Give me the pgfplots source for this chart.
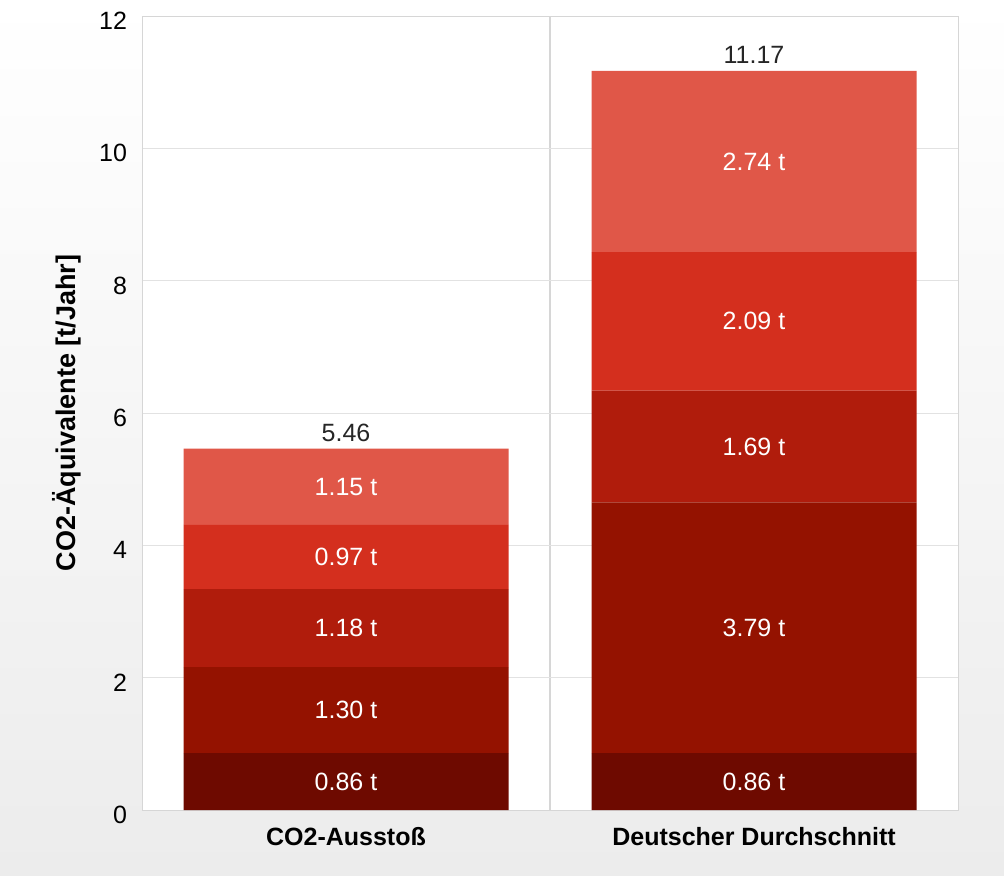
\documentclass[border=0pt]{standalone}
\usepackage{pgfplots}
\pgfplotsset{compat=1.18}
\usepackage{fontspec}
\setmainfont{Liberation Sans}

\definecolor{sA}{HTML}{6E0A00}
\definecolor{sB}{HTML}{941200}
\definecolor{sC}{HTML}{B01C0C}
\definecolor{sD}{HTML}{D42F1E}
\definecolor{sE}{HTML}{E05748}
\definecolor{gridcol}{HTML}{E2E2E2}
\definecolor{framecol}{HTML}{D6D6D6}
\definecolor{bgbot}{HTML}{ECECEC}

\newcommand{\lbl}{\fontsize{12.5}{15}\selectfont}
\tikzset{seg/.style={font=\lbl, text=white}, tot/.style={font=\lbl, anchor=south, text=black!85}}

\begin{document}
\begin{tikzpicture}
  % Hintergrund mit Verlauf
  \shade[top color=white, bottom color=bgbot] (-71pt,-32.5pt) rectangle (431pt,405pt);
  \path[use as bounding box] (-71pt,-32.5pt) rectangle (431pt,405pt);

  \begin{axis}[
      scale only axis,
      width=408pt, height=397pt,
      ybar stacked,
      bar width=162.5pt,
      xmin=-0.5, xmax=1.5,
      ymin=0, ymax=12,
      xtick={0,1},
      xticklabels={CO2-Ausstoß, Deutscher Durchschnitt},
      minor xtick={0.5},
      ytick={0,2,...,12},
      ymajorgrids, xminorgrids,
      major grid style={draw=gridcol},
      minor grid style={draw=framecol, line width=0.8pt},
      axis line style={draw=framecol},
      major tick length=0pt, minor tick length=0pt,
      axis background/.style={fill=white},
      /pgf/number format/assume math mode=true,
      yticklabel style={font=\lbl, xshift=-4pt, yshift=-2.5pt},
      xticklabel style={font=\lbl\bfseries, yshift=-5pt},
      ylabel={CO2-Äquivalente [t/Jahr]},
      ylabel style={font=\fontsize{13.5}{16}\selectfont\bfseries, yshift=2pt},
    ]

    % Segmente von unten nach oben
    \addplot[fill=sA, draw=none] coordinates {(0,0.86) (1,0.86)};
    \addplot[fill=sB, draw=none] coordinates {(0,1.30) (1,3.79)};
    \addplot[fill=sC, draw=none] coordinates {(0,1.18) (1,1.69)};
    \addplot[fill=sD, draw=none] coordinates {(0,0.97) (1,2.09)};
    \addplot[fill=sE, draw=none] coordinates {(0,1.15) (1,2.74)};

    % Positionen der Beschriftungen (Mitte der Segmente)
    \coordinate (a1) at (axis cs:0,0.43);
    \coordinate (a2) at (axis cs:0,1.51);
    \coordinate (a3) at (axis cs:0,2.75);
    \coordinate (a4) at (axis cs:0,3.825);
    \coordinate (a5) at (axis cs:0,4.885);
    \coordinate (b1) at (axis cs:1,0.43);
    \coordinate (b2) at (axis cs:1,2.755);
    \coordinate (b3) at (axis cs:1,5.495);
    \coordinate (b4) at (axis cs:1,7.385);
    \coordinate (b5) at (axis cs:1,9.8);
    \coordinate (ta) at (axis cs:0,5.46);
    \coordinate (tb) at (axis cs:1,11.17);
  \end{axis}

  \node[seg] at (a1) {0.86 t};
  \node[seg] at (a2) {1.30 t};
  \node[seg] at (a3) {1.18 t};
  \node[seg] at (a4) {0.97 t};
  \node[seg] at (a5) {1.15 t};
  \node[seg] at (b1) {0.86 t};
  \node[seg] at (b2) {3.79 t};
  \node[seg] at (b3) {1.69 t};
  \node[seg] at (b4) {2.09 t};
  \node[seg] at (b5) {2.74 t};

  % Summen
  \node[tot] at (ta) {5.46};
  \node[tot] at (tb) {11.17};
\end{tikzpicture}
\end{document}
